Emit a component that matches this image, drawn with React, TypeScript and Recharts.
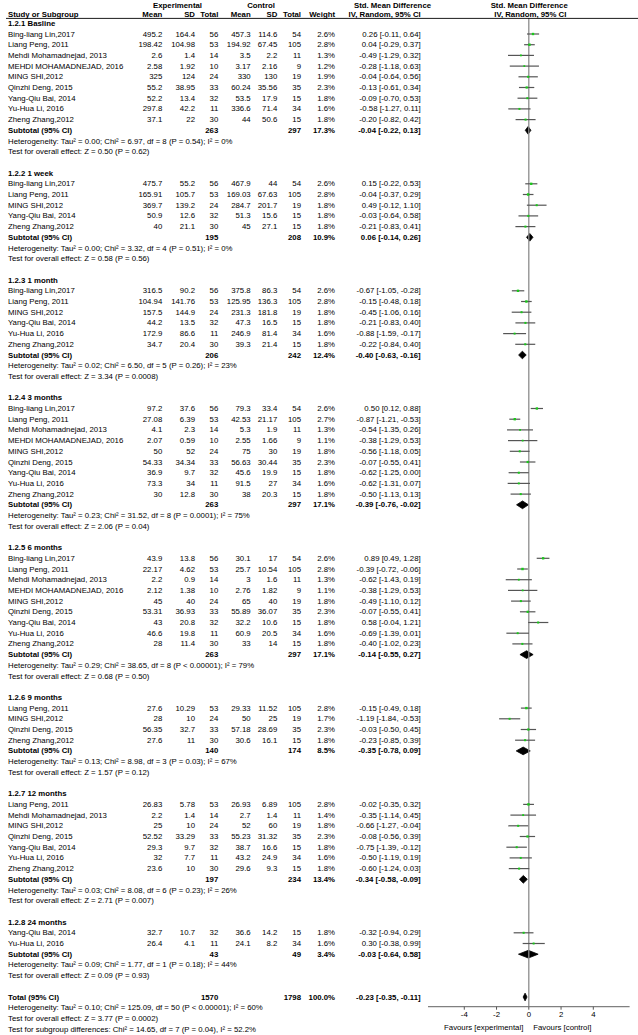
import React from 'react'
import { ComposedChart, Scatter, ErrorBar, Area, XAxis, YAxis, ReferenceLine } from 'recharts'

// [study, exp mean, exp sd, exp n, ctrl mean, ctrl sd, ctrl n, weight %, smd, lower, upper]
type Study = [string, number, number, number, number, number, number, number, number, number, number]

const basline: Study[] = [
  ['Bing-liang Lin,2017', 495.2, 164.4, 56, 457.3, 114.6, 54, 2.6, 0.26, -0.11, 0.64],
  ['Liang Peng, 2011', 198.42, 104.98, 53, 194.92, 67.45, 105, 2.8, 0.04, -0.29, 0.37],
  ['Mehdi Mohamadnejad, 2013', 2.6, 1.4, 14, 3.5, 2.2, 11, 1.3, -0.49, -1.29, 0.32],
  ['MEHDI MOHAMADNEJAD, 2016', 2.58, 1.92, 10, 3.17, 2.16, 9, 1.2, -0.28, -1.18, 0.63],
  ['MING SHI,2012', 325, 124, 24, 330, 130, 19, 1.9, -0.04, -0.64, 0.56],
  ['Qinzhi Deng, 2015', 55.2, 38.95, 33, 60.24, 35.56, 35, 2.3, -0.13, -0.61, 0.34],
  ['Yang-Qiu Bai, 2014', 52.2, 13.4, 32, 53.5, 17.9, 15, 1.8, -0.09, -0.70, 0.53],
  ['Yu-Hua Li, 2016', 297.8, 42.2, 11, 336.6, 71.4, 34, 1.6, -0.58, -1.27, 0.11],
  ['Zheng Zhang,2012', 37.1, 22, 30, 44, 50.6, 15, 1.8, -0.20, -0.82, 0.42],
]

const week1: Study[] = [
  ['Bing-liang Lin,2017', 475.7, 55.2, 56, 467.9, 44, 54, 2.6, 0.15, -0.22, 0.53],
  ['Liang Peng, 2011', 165.91, 105.7, 53, 169.03, 67.63, 105, 2.8, -0.04, -0.37, 0.29],
  ['MING SHI,2012', 369.7, 139.2, 24, 284.7, 201.7, 19, 1.8, 0.49, -0.12, 1.10],
  ['Yang-Qiu Bai, 2014', 50.9, 12.6, 32, 51.3, 15.6, 15, 1.8, -0.03, -0.64, 0.58],
  ['Zheng Zhang,2012', 40, 21.1, 30, 45, 27.1, 15, 1.8, -0.21, -0.83, 0.41],
]

const month1: Study[] = [
  ['Bing-liang Lin,2017', 316.5, 90.2, 56, 375.8, 86.3, 54, 2.6, -0.67, -1.05, -0.28],
  ['Liang Peng, 2011', 104.94, 141.76, 53, 125.95, 136.3, 105, 2.8, -0.15, -0.48, 0.18],
  ['MING SHI,2012', 157.5, 144.9, 24, 231.3, 181.8, 19, 1.8, -0.45, -1.06, 0.16],
  ['Yang-Qiu Bai, 2014', 44.2, 13.5, 32, 47.3, 16.5, 15, 1.8, -0.21, -0.83, 0.40],
  ['Yu-Hua Li, 2016', 172.9, 86.6, 11, 246.9, 81.4, 34, 1.6, -0.88, -1.59, -0.17],
  ['Zheng Zhang,2012', 34.7, 20.4, 30, 39.3, 21.4, 15, 1.8, -0.22, -0.84, 0.40],
]

const month3: Study[] = [
  ['Bing-liang Lin,2017', 97.2, 37.6, 56, 79.3, 33.4, 54, 2.6, 0.50, 0.12, 0.88],
  ['Liang Peng, 2011', 27.08, 6.39, 53, 42.53, 21.17, 105, 2.7, -0.87, -1.21, -0.53],
  ['Mehdi Mohamadnejad, 2013', 4.1, 2.3, 14, 5.3, 1.9, 11, 1.3, -0.54, -1.35, 0.26],
  ['MEHDI MOHAMADNEJAD, 2016', 2.07, 0.59, 10, 2.55, 1.66, 9, 1.1, -0.38, -1.29, 0.53],
  ['MING SHI,2012', 50, 52, 24, 75, 30, 19, 1.8, -0.56, -1.18, 0.05],
  ['Qinzhi Deng, 2015', 54.33, 34.34, 33, 56.63, 30.44, 35, 2.3, -0.07, -0.55, 0.41],
  ['Yang-Qiu Bai, 2014', 36.9, 9.7, 32, 45.6, 19.9, 15, 1.8, -0.62, -1.25, 0.00],
  ['Yu-Hua Li, 2016', 73.3, 34, 11, 91.5, 27, 34, 1.6, -0.62, -1.31, 0.07],
  ['Zheng Zhang,2012', 30, 12.8, 30, 38, 20.3, 15, 1.8, -0.50, -1.13, 0.13],
]

const month6: Study[] = [
  ['Bing-liang Lin,2017', 43.9, 13.8, 56, 30.1, 17, 54, 2.6, 0.89, 0.49, 1.28],
  ['Liang Peng, 2011', 22.17, 4.62, 53, 25.7, 10.54, 105, 2.8, -0.39, -0.72, -0.06],
  ['Mehdi Mohamadnejad, 2013', 2.2, 0.9, 14, 3, 1.6, 11, 1.3, -0.62, -1.43, 0.19],
  ['MEHDI MOHAMADNEJAD, 2016', 2.12, 1.38, 10, 2.76, 1.82, 9, 1.1, -0.38, -1.29, 0.53],
  ['MING SHI,2012', 45, 40, 24, 65, 40, 19, 1.8, -0.49, -1.10, 0.12],
  ['Qinzhi Deng, 2015', 53.31, 36.93, 33, 55.89, 36.07, 35, 2.3, -0.07, -0.55, 0.41],
  ['Yang-Qiu Bai, 2014', 43, 20.8, 32, 32.2, 10.6, 15, 1.8, 0.58, -0.04, 1.21],
  ['Yu-Hua Li, 2016', 46.6, 19.8, 11, 60.9, 20.5, 34, 1.6, -0.69, -1.39, 0.01],
  ['Zheng Zhang,2012', 28, 11.4, 30, 33, 14, 15, 1.8, -0.40, -1.02, 0.23],
]

const month9: Study[] = [
  ['Liang Peng, 2011', 27.6, 10.29, 53, 29.33, 11.52, 105, 2.8, -0.15, -0.49, 0.18],
  ['MING SHI,2012', 28, 10, 24, 50, 25, 19, 1.7, -1.19, -1.84, -0.53],
  ['Qinzhi Deng, 2015', 56.35, 32.7, 33, 57.18, 28.69, 35, 2.3, -0.03, -0.50, 0.45],
  ['Zheng Zhang,2012', 27.6, 11, 30, 30.6, 16.1, 15, 1.8, -0.23, -0.85, 0.39],
]

const month12: Study[] = [
  ['Liang Peng, 2011', 26.83, 5.78, 53, 26.93, 6.89, 105, 2.8, -0.02, -0.35, 0.32],
  ['Mehdi Mohamadnejad, 2013', 2.2, 1.4, 14, 2.7, 1.4, 11, 1.4, -0.35, -1.14, 0.45],
  ['MING SHI,2012', 25, 10, 24, 52, 60, 19, 1.8, -0.66, -1.27, -0.04],
  ['Qinzhi Deng, 2015', 52.52, 33.29, 33, 55.23, 31.32, 35, 2.3, -0.08, -0.56, 0.39],
  ['Yang-Qiu Bai, 2014', 29.3, 9.7, 32, 38.7, 16.6, 15, 1.8, -0.75, -1.39, -0.12],
  ['Yu-Hua Li, 2016', 32, 7.7, 11, 43.2, 24.9, 34, 1.6, -0.50, -1.19, 0.19],
  ['Zheng Zhang,2012', 23.6, 10, 30, 29.6, 9.3, 15, 1.8, -0.60, -1.24, 0.03],
]

const month24: Study[] = [
  ['Yang-Qiu Bai, 2014', 32.7, 10.7, 32, 36.6, 14.2, 15, 1.8, -0.32, -0.94, 0.29],
  ['Yu-Hua Li, 2016', 26.4, 4.1, 11, 24.1, 8.2, 34, 1.6, 0.30, -0.38, 0.99],
]

const subgroupTitles = [
  '1.2.1 Basline', '1.2.2 1 week', '1.2.3 1 month', '1.2.4 3 months',
  '1.2.5 6 months', '1.2.6 9 months', '1.2.7 12 months', '1.2.8 24 months',
]

// [exp total, ctrl total, weight %, smd, lower, upper]
const subtotals = [
  [263, 297, 17.3, -0.04, -0.22, 0.13],
  [195, 208, 10.9, 0.06, -0.14, 0.26],
  [206, 242, 12.4, -0.40, -0.63, -0.16],
  [263, 297, 17.1, -0.39, -0.76, -0.02],
  [263, 297, 17.1, -0.14, -0.55, 0.27],
  [140, 174, 8.5, -0.35, -0.78, 0.09],
  [197, 234, 13.4, -0.34, -0.58, -0.09],
  [43, 49, 3.4, -0.03, -0.64, 0.58],
]

const heterogeneity = [
  'Heterogeneity: Tau² = 0.00; Chi² = 6.97, df = 8 (P = 0.54); I² = 0%',
  'Heterogeneity: Tau² = 0.00; Chi² = 3.32, df = 4 (P = 0.51); I² = 0%',
  'Heterogeneity: Tau² = 0.02; Chi² = 6.50, df = 5 (P = 0.26); I² = 23%',
  'Heterogeneity: Tau² = 0.23; Chi² = 31.52, df = 8 (P = 0.0001); I² = 75%',
  'Heterogeneity: Tau² = 0.29; Chi² = 38.65, df = 8 (P < 0.00001); I² = 79%',
  'Heterogeneity: Tau² = 0.13; Chi² = 8.98, df = 3 (P = 0.03); I² = 67%',
  'Heterogeneity: Tau² = 0.03; Chi² = 8.08, df = 6 (P = 0.23); I² = 26%',
  'Heterogeneity: Tau² = 0.09; Chi² = 1.77, df = 1 (P = 0.18); I² = 44%',
]

const overallEffect = [
  'Test for overall effect: Z = 0.50 (P = 0.62)',
  'Test for overall effect: Z = 0.58 (P = 0.56)',
  'Test for overall effect: Z = 3.34 (P = 0.0008)',
  'Test for overall effect: Z = 2.06 (P = 0.04)',
  'Test for overall effect: Z = 0.68 (P = 0.50)',
  'Test for overall effect: Z = 1.57 (P = 0.12)',
  'Test for overall effect: Z = 2.71 (P = 0.007)',
  'Test for overall effect: Z = 0.09 (P = 0.93)',
]

const total = [1570, 1798, 100.0, -0.23, -0.35, -0.11]
const totalNotes = [
  'Heterogeneity: Tau² = 0.10; Chi² = 125.09, df = 50 (P < 0.00001); I² = 60%',
  'Test for overall effect: Z = 3.77 (P = 0.0002)',
  'Test for subgroup differences: Chi² = 14.65, df = 7 (P = 0.04), I² = 52.2%',
]

const xTicks = [-4, -2, 0, 2, 4]

const groups = [basline, week1, month1, month3, month6, month9, month12, month24]

const FONT = '"Liberation Sans", Arial, sans-serif'
const FS = 7.8
const W = 638
const H = 1035
const PITCH = 10.7
const FIRST_Y = 34 // centre of row 3
const PLOT_TOP = 18
const PLOT_BOTTOM = 1006.7
const rowY = (r: number) => FIRST_Y + (r - 3) * PITCH
const yDomain = [3 + (PLOT_TOP - FIRST_Y) / PITCH, 3 + (PLOT_BOTTOM - FIRST_Y) / PITCH]
const xDomain = [-6.25, 6.25]
const DH = 0.36 // diamond half height in rows

const COL = { name: 8, eMean: 162.3, eSD: 195, eN: 218.3, cMean: 250.7, cSD: 277.3, cN: 301, weight: 335, effect: 420.7 }

const fmtCI = (e: number, lo: number, hi: number) => {
  const f = (v: number) => (Math.abs(v) < 1e-9 ? 0 : v).toFixed(2)
  return `${f(e)} [${f(lo)}, ${f(hi)}]`
}

type TextRow =
  | { r: number; kind: 'title' | 'note'; text: string }
  | { r: number; kind: 'study'; s: Study }
  | { r: number; kind: 'sub'; label: string; v: number[] }

const textRows: TextRow[] = []
const studyPoints: { x: number; y: number; err: [number, number]; w: number }[] = []
const diamonds: { row: number; est: number; lo: number; hi: number }[] = []

let row = 2
groups.forEach((g, gi) => {
  textRows.push({ r: row++, kind: 'title', text: subgroupTitles[gi] })
  g.forEach((s) => {
    textRows.push({ r: row, kind: 'study', s })
    studyPoints.push({ x: s[8], y: row, err: [s[8] - s[9], s[10] - s[8]], w: s[7] })
    row++
  })
  const st = subtotals[gi]
  textRows.push({ r: row, kind: 'sub', label: 'Subtotal (95% CI)', v: st })
  diamonds.push({ row, est: st[3], lo: st[4], hi: st[5] })
  row++
  textRows.push({ r: row++, kind: 'note', text: heterogeneity[gi] })
  textRows.push({ r: row++, kind: 'note', text: overallEffect[gi] })
  row++
})
textRows.push({ r: row, kind: 'sub', label: 'Total (95% CI)', v: total })
diamonds.push({ row, est: total[3], lo: total[4], hi: total[5] })
row++
totalNotes.forEach((t) => textRows.push({ r: row++, kind: 'note', text: t }))

const Marker = (p: any) => {
  const s = 1.3 + p.payload.w * 0.4
  return <rect x={p.cx - s / 2} y={p.cy - s / 2} width={s} height={s} fill="#19c819" />
}

function T({ x, y, a = 'end', b = false, children }: any) {
  return (
    <text x={x} y={y} textAnchor={a} fontWeight={b ? 'bold' : 'normal'} dominantBaseline="central" fill="#000">
      {children}
    </text>
  )
}

export default function App() {
  return (
    <div style={{ position: 'absolute', left: 0, top: 0, width: W, height: H, background: '#fff' }}>
      <ComposedChart width={W} height={H} margin={{ top: PLOT_TOP, right: 8.4, bottom: H - PLOT_BOTTOM - 20, left: 428 }}>
        <XAxis type="number" dataKey="x" domain={xDomain} allowDataOverflow ticks={xTicks} interval={0}
          height={20} tickSize={3} axisLine={{ stroke: '#808080', strokeWidth: 1.2 }} tickLine={{ stroke: '#555' }}
          tick={{ fontSize: FS, fill: '#000', fontFamily: FONT }} />
        <YAxis type="number" dataKey="y" hide reversed domain={yDomain} allowDataOverflow />
        <ReferenceLine x={0} stroke="#8c8c8c" strokeWidth={1.3} />
        {diamonds.map((d, i) => (
          <Area key={i} type="linear" dataKey="y" isAnimationActive={false} dot={false} activeDot={false}
            stroke="#000" strokeWidth={0.8} fill="#000" fillOpacity={1}
            data={[
              { x: d.lo, y: [d.row, d.row] },
              { x: d.est, y: [d.row - DH, d.row + DH] },
              { x: d.hi, y: [d.row, d.row] },
            ]} />
        ))}
        <Scatter data={studyPoints} isAnimationActive={false} shape={Marker}>
          <ErrorBar dataKey="err" direction="x" width={0} stroke="#555" strokeWidth={1.2} />
        </Scatter>
      </ComposedChart>

      <svg width={W} height={H} style={{ position: 'absolute', left: 0, top: 0, pointerEvents: 'none' }}
        fontFamily={FONT} fontSize={FS}>
        {/* column headers */}
        <T x={177.5} y={5} a="middle" b>Experimental</T>
        <T x={261} y={5} a="middle" b>Control</T>
        <T x={392.5} y={5} a="middle" b>Std. Mean Difference</T>
        <T x={529.2} y={5} a="middle" b>Std. Mean Difference</T>
        <T x={COL.name} y={14.7} a="start" b>Study or Subgroup</T>
        <T x={COL.eMean} y={14.7} b>Mean</T>
        <T x={COL.eSD} y={14.7} b>SD</T>
        <T x={COL.eN} y={14.7} b>Total</T>
        <T x={COL.cMean} y={14.7} b>Mean</T>
        <T x={COL.cSD} y={14.7} b>SD</T>
        <T x={COL.cN} y={14.7} b>Total</T>
        <T x={COL.weight} y={14.7} b>Weight</T>
        <T x={COL.effect} y={14.7} b>IV, Random, 95% CI</T>
        <T x={530.3} y={14.7} a="middle" b>IV, Random, 95% CI</T>
        <line x1={6} x2={W} y1={18.4} y2={18.4} stroke="#000" strokeWidth={0.9} />

        {textRows.map((t, i) => {
          const y = rowY(t.r)
          if (t.kind === 'title') return <T key={i} x={COL.name} y={y} a="start" b>{t.text}</T>
          if (t.kind === 'note') return <T key={i} x={COL.name} y={y} a="start">{t.text}</T>
          if (t.kind === 'sub') {
            return (
              <g key={i}>
                <T x={COL.name} y={y} a="start" b>{t.label}</T>
                <T x={COL.eN} y={y} b>{t.v[0]}</T>
                <T x={COL.cN} y={y} b>{t.v[1]}</T>
                <T x={COL.weight} y={y} b>{t.v[2].toFixed(1)}%</T>
                <T x={COL.effect} y={y} b>{fmtCI(t.v[3], t.v[4], t.v[5])}</T>
              </g>
            )
          }
          const s = t.s
          return (
            <g key={i}>
              <T x={COL.name} y={y} a="start">{s[0]}</T>
              <T x={COL.eMean} y={y}>{s[1]}</T>
              <T x={COL.eSD} y={y}>{s[2]}</T>
              <T x={COL.eN} y={y}>{s[3]}</T>
              <T x={COL.cMean} y={y}>{s[4]}</T>
              <T x={COL.cSD} y={y}>{s[5]}</T>
              <T x={COL.cN} y={y}>{s[6]}</T>
              <T x={COL.weight} y={y}>{s[7].toFixed(1)}%</T>
              <T x={COL.effect} y={y}>{fmtCI(s[8], s[9], s[10])}</T>
            </g>
          )
        })}

        <T x={483.7} y={1027.5} a="middle">Favours [experimental]</T>
        <T x={562.3} y={1027.5} a="middle">Favours [control]</T>
      </svg>
    </div>
  )
}
